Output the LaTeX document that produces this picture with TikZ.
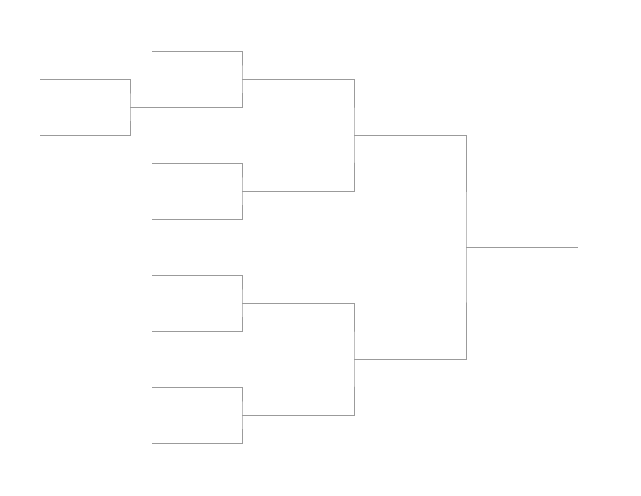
\documentclass[tikz,border=0pt]{standalone}
\definecolor{bracketgray}{RGB}{155,155,155}
\begin{document}
\begin{tikzpicture}[x=0.75pt,y=-0.75pt,line width=0.7pt,
		bracket/.style={draw=bracketgray}]
		\useasboundingbox (0,0) rectangle (641,495);

		% first round
		\foreach \n/\y in {1/51,2/163,3/275,4/387}{
			\coordinate (top\n) at (152,\y);
			\coordinate (bot\n) at (152,\y+56);
			\coordinate (win\n) at (242,\y+28);
			\draw[bracket] (top\n) -| (win\n) |- (bot\n);
		}

		% play-in
		\coordinate (play1) at (40,79);
		\coordinate (play2) at (40,135);
		\coordinate (playwin) at (130,107);
		\draw[bracket] (play1) -| (playwin) |- (play2);
		\draw[bracket] (playwin) -- (bot1);

		% semi-finals
		\coordinate (semi1) at (354,135);
		\coordinate (semi2) at (354,359);
		\draw[bracket] (win1) -| (semi1) |- (win2);
		\draw[bracket] (win3) -| (semi2) |- (win4);

		% final
		\coordinate (final) at (466,247);
		\coordinate (champ) at (578,247);
		\draw[bracket] (semi1) -| (final) |- (semi2);
		\draw[bracket] (final) -- (champ);
	\end{tikzpicture}
\end{document}
